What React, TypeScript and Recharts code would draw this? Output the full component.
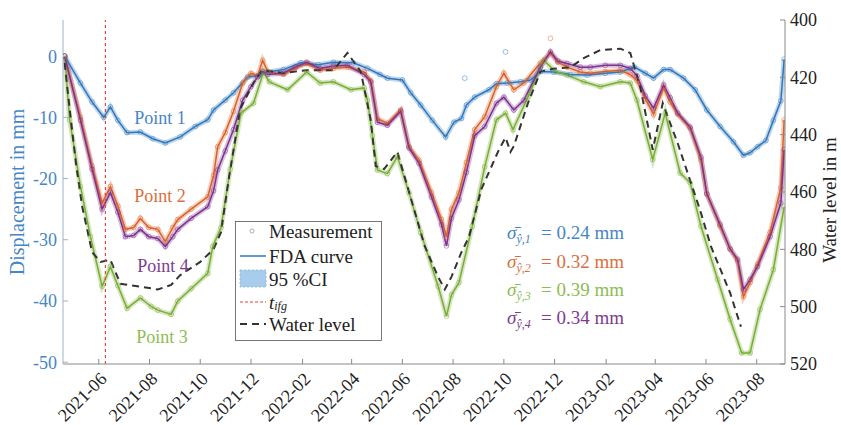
import React from 'react';
import { ComposedChart, Line, XAxis, YAxis, ReferenceLine } from 'recharts';

type Pt = [string, number];

const point1: Pt[] = [
  ['2021-04-21', 0], ['2021-05-10', -4.4], ['2021-05-24', -7.5], ['2021-06-07', -10.0], ['2021-06-15', -8.3],
  ['2021-06-24', -10.5], ['2021-07-05', -12.5], ['2021-07-21', -12.4], ['2021-08-05', -13.5], ['2021-08-20', -14.2],
  ['2021-09-07', -13.2], ['2021-09-25', -11.5], ['2021-10-10', -10.4], ['2021-10-17', -8.8], ['2021-10-31', -7.2],
  ['2021-11-10', -6.0], ['2021-11-27', -3.4], ['2021-12-10', -3.2], ['2021-12-21', -2.6], ['2022-01-09', -2.2],
  ['2022-01-30', -1.1], ['2022-02-20', -1.4], ['2022-03-10', -1.0], ['2022-04-03', -1.1], ['2022-04-20', -2.0],
  ['2022-05-05', -3.0], ['2022-05-14', -3.6], ['2022-06-01', -3.9], ['2022-06-11', -6.0], ['2022-06-23', -8.0],
  ['2022-07-07', -10.5], ['2022-07-23', -13.2], ['2022-08-02', -10.8], ['2022-08-11', -10.2], ['2022-08-17', -8.0],
  ['2022-08-27', -6.7], ['2022-09-13', -5.5], ['2022-09-22', -4.5], ['2022-10-05', -4.4], ['2022-10-21', -4.2],
  ['2022-11-02', -3.9], ['2022-11-14', -2.5], ['2022-11-30', -2.6], ['2022-12-20', -3.0], ['2023-01-09', -3.1],
  ['2023-01-31', -2.8], ['2023-02-18', -2.6], ['2023-03-07', -1.8], ['2023-03-20', -2.8], ['2023-03-30', -3.6],
  ['2023-04-11', -2.2], ['2023-04-19', -2.2], ['2023-05-05', -3.6], ['2023-05-19', -5.5], ['2023-06-02', -8.8],
  ['2023-06-18', -11.5], ['2023-07-04', -14.0], ['2023-07-16', -16.2], ['2023-07-24', -15.8], ['2023-08-02', -14.8],
  ['2023-08-12', -13.8], ['2023-08-21', -10.5], ['2023-08-30', -7.3], ['2023-09-03', -0.5],
];

const point2: Pt[] = [
  ['2021-04-21', 0], ['2021-05-10', -10.0], ['2021-05-24', -18.0], ['2021-06-05', -24.0], ['2021-06-15', -21.3],
  ['2021-06-24', -24.5], ['2021-07-03', -28.3], ['2021-07-13', -28.0], ['2021-07-21', -26.5], ['2021-07-31', -28.0],
  ['2021-08-11', -28.3], ['2021-08-20', -30.3], ['2021-08-29', -28.0], ['2021-09-04', -26.7], ['2021-09-20', -25.0],
  ['2021-10-10', -23.0], ['2021-10-17', -19.5], ['2021-10-22', -14.8], ['2021-10-31', -12.5], ['2021-11-10', -9.0],
  ['2021-11-21', -4.4], ['2021-12-01', -2.8], ['2021-12-09', -3.2], ['2021-12-15', -0.7], ['2021-12-21', -2.5],
  ['2022-01-09', -3.0], ['2022-01-23', -2.0], ['2022-02-06', -1.2], ['2022-02-22', -2.3], ['2022-03-10', -2.0],
  ['2022-03-27', -1.8], ['2022-04-16', -2.6], ['2022-04-24', -4.0], ['2022-05-02', -10.2], ['2022-05-14', -11.0],
  ['2022-05-30', -8.8], ['2022-06-09', -14.8], ['2022-06-21', -17.0], ['2022-07-06', -22.3], ['2022-07-18', -26.7],
  ['2022-07-24', -29.5], ['2022-07-30', -25.0], ['2022-08-08', -22.3], ['2022-08-17', -17.4], ['2022-08-27', -12.0],
  ['2022-09-08', -9.9], ['2022-09-22', -5.0], ['2022-10-01', -2.8], ['2022-10-13', -5.5], ['2022-10-25', -4.4],
  ['2022-11-14', -1.1], ['2022-11-26', 0.5], ['2022-12-05', -1.0], ['2022-12-16', -1.8], ['2023-01-01', -2.6],
  ['2023-01-13', -2.8], ['2023-01-31', -2.5], ['2023-02-18', -2.3], ['2023-03-02', -3.0], ['2023-03-10', -4.0],
  ['2023-03-20', -7.0], ['2023-03-30', -9.5], ['2023-04-11', -5.2], ['2023-04-19', -7.5], ['2023-04-28', -9.5],
  ['2023-05-13', -11.8], ['2023-05-26', -17.0], ['2023-06-02', -22.5], ['2023-06-18', -27.8], ['2023-06-30', -31.5],
  ['2023-07-09', -33.5], ['2023-07-16', -39.3], ['2023-07-24', -37.0], ['2023-08-02', -34.0], ['2023-08-17', -28.8],
  ['2023-08-30', -21.5], ['2023-09-03', -10.4],
];

const point3: Pt[] = [
  ['2021-04-21', 0], ['2021-04-27', -10.4], ['2021-05-10', -21.3], ['2021-05-22', -29.5], ['2021-06-05', -37.6],
  ['2021-06-15', -34.4], ['2021-06-24', -37.5], ['2021-07-05', -41.2], ['2021-07-21', -39.5], ['2021-08-03', -40.9],
  ['2021-08-11', -41.5], ['2021-08-27', -42.2], ['2021-09-04', -40.0], ['2021-09-20', -38.0], ['2021-10-10', -35.5],
  ['2021-10-16', -31.1], ['2021-10-26', -28.0], ['2021-11-06', -18.5], ['2021-11-19', -9.3], ['2021-12-04', -7.7],
  ['2021-12-16', -2.6], ['2021-12-23', -4.2], ['2022-01-14', -5.5], ['2022-02-06', -2.6], ['2022-02-22', -4.4],
  ['2022-03-10', -4.2], ['2022-03-31', -5.5], ['2022-04-16', -5.2], ['2022-04-20', -7.2], ['2022-04-26', -13.0],
  ['2022-05-02', -18.6], ['2022-05-14', -19.2], ['2022-05-26', -16.4], ['2022-06-09', -22.3], ['2022-06-23', -28.8],
  ['2022-07-14', -37.6], ['2022-07-24', -42.5], ['2022-07-30', -39.0], ['2022-08-08', -37.0], ['2022-08-24', -27.8],
  ['2022-09-08', -18.1], ['2022-09-22', -10.4], ['2022-10-03', -9.3], ['2022-10-12', -12.0], ['2022-10-30', -6.7],
  ['2022-11-14', -1.8], ['2022-11-18', -0.7], ['2022-12-02', -2.5], ['2022-12-16', -3.1], ['2023-01-05', -4.2],
  ['2023-01-25', -5.0], ['2023-02-18', -4.2], ['2023-03-02', -4.4], ['2023-03-10', -7.2], ['2023-03-29', -16.9],
  ['2023-04-13', -9.3], ['2023-05-01', -19.1], ['2023-05-13', -20.7], ['2023-05-26', -27.8], ['2023-06-15', -36.5],
  ['2023-06-30', -43.0], ['2023-07-14', -48.5], ['2023-07-24', -48.5], ['2023-08-05', -41.4], ['2023-08-21', -34.9],
  ['2023-09-03', -24.6],
];

const point4: Pt[] = [
  ['2021-04-21', 0], ['2021-05-10', -10.5], ['2021-05-24', -18.5], ['2021-06-05', -25.0], ['2021-06-15', -22.3],
  ['2021-06-24', -25.5], ['2021-07-03', -29.5], ['2021-07-13', -29.3], ['2021-07-21', -28.3], ['2021-07-31', -29.5],
  ['2021-08-11', -29.8], ['2021-08-20', -31.1], ['2021-08-29', -29.5], ['2021-09-04', -28.3], ['2021-09-20', -26.5],
  ['2021-10-10', -24.6], ['2021-10-17', -22.0], ['2021-10-22', -18.6], ['2021-10-31', -15.5], ['2021-11-10', -12.0],
  ['2021-11-21', -7.2], ['2021-12-01', -5.0], ['2021-12-09', -3.4], ['2021-12-15', -2.5], ['2021-12-21', -3.0],
  ['2022-01-09', -2.8], ['2022-01-23', -1.8], ['2022-02-06', -1.0], ['2022-02-22', -2.0], ['2022-03-10', -1.6],
  ['2022-03-27', -1.5], ['2022-04-16', -3.0], ['2022-04-24', -4.2], ['2022-05-02', -10.8], ['2022-05-14', -11.3],
  ['2022-05-30', -9.0], ['2022-06-09', -15.0], ['2022-06-21', -17.5], ['2022-07-06', -23.0], ['2022-07-18', -27.5],
  ['2022-07-24', -31.0], ['2022-07-30', -26.5], ['2022-08-08', -23.5], ['2022-08-17', -19.0], ['2022-08-27', -13.0],
  ['2022-09-08', -11.5], ['2022-09-22', -7.7], ['2022-10-01', -6.7], ['2022-10-13', -8.8], ['2022-10-25', -7.2],
  ['2022-11-14', -1.8], ['2022-11-26', 0.7], ['2022-12-05', -0.8], ['2022-12-16', -1.2], ['2023-01-01', -1.8],
  ['2023-01-13', -1.8], ['2023-01-31', -1.5], ['2023-02-18', -1.5], ['2023-03-02', -2.0], ['2023-03-10', -3.2],
  ['2023-03-20', -6.5], ['2023-03-30', -8.5], ['2023-04-11', -4.7], ['2023-04-19', -6.8], ['2023-04-28', -9.3],
  ['2023-05-13', -11.6], ['2023-05-26', -16.5], ['2023-06-02', -22.5], ['2023-06-18', -27.5], ['2023-06-30', -31.5],
  ['2023-07-09', -33.2], ['2023-07-16', -38.1], ['2023-07-24', -36.5], ['2023-08-02', -34.4], ['2023-08-17', -29.5],
  ['2023-08-30', -24.0], ['2023-09-03', -15.3],
];

const outliers1: Pt[] = [['2022-08-15', -3.6], ['2022-10-03', 0.7]];
const outliers2: Pt[] = [['2022-11-26', 2.9]];

const waterLevel: Pt[] = [
  ['2021-04-21', 415], ['2021-04-27', 431], ['2021-05-05', 451], ['2021-05-12', 465], ['2021-05-24', 481],
  ['2021-06-03', 484.4], ['2021-06-15', 483.7], ['2021-06-27', 492], ['2021-07-21', 493], ['2021-08-11', 494],
  ['2021-08-27', 492.4], ['2021-09-07', 489], ['2021-10-01', 484.4], ['2021-10-17', 480], ['2021-10-26', 474],
  ['2021-11-04', 456], ['2021-11-18', 431], ['2021-12-04', 422], ['2021-12-14', 417.5], ['2022-01-09', 418.5],
  ['2022-02-06', 417.5], ['2022-03-10', 417.5], ['2022-03-27', 411.5], ['2022-04-12', 418], ['2022-04-24', 435],
  ['2022-04-30', 451], ['2022-05-10', 452], ['2022-05-26', 446], ['2022-06-09', 460], ['2022-06-28', 479],
  ['2022-07-14', 489.6], ['2022-07-22', 494], ['2022-07-30', 489.6], ['2022-08-11', 481], ['2022-08-20', 475.7],
  ['2022-09-04', 459], ['2022-09-25', 445.3], ['2022-10-03', 441], ['2022-10-09', 446], ['2022-10-13', 444],
  ['2022-10-30', 429], ['2022-11-14', 418], ['2022-11-30', 417], ['2022-12-20', 416.5], ['2023-01-05', 413.3],
  ['2023-01-25', 410.5], ['2023-02-18', 410], ['2023-03-02', 411.5], ['2023-03-14', 423.4], ['2023-03-29', 445.3],
  ['2023-04-10', 429], ['2023-04-28', 443], ['2023-05-10', 453.4], ['2023-05-26', 467.3], ['2023-06-07', 479],
  ['2023-06-30', 495.2], ['2023-07-13', 507],
];

const ifgDate = '2021-06-09';
const xDomain = ['2021-04-19', '2023-09-04'];
const xTickLabels = [
  '2021-06', '2021-08', '2021-10', '2021-12', '2022-02', '2022-04', '2022-06',
  '2022-08', '2022-10', '2022-12', '2023-02', '2023-04', '2023-06', '2023-08',
];
const leftTicks = [-50, -40, -30, -20, -10, 0];
const rightTicks = [400, 420, 440, 460, 480, 500, 520];
const pointLabels = ['Point 1', 'Point 2', 'Point 3', 'Point 4'];
const sigmaValues = ['0.24', '0.32', '0.39', '0.34'];

const C_BLUE = '#2f78bd';
const C_ORANGE = '#db6128';
const C_GREEN = '#79ae35';
const C_PURPLE = '#7e318f';
const T_BLUE = '#4586c6';
const T_ORANGE = '#d9703c';
const T_GREEN = '#8cbd52';
const T_PURPLE = '#7d3c90';
const FONT = 'Liberation Serif, DejaVu Serif, serif';

const toMs = (s: string) => Date.parse((s.length === 7 ? s + '-01' : s) + 'T00:00:00Z');
const rows = (arr: Pt[]) => arr.map(([d, v]) => ({ t: toMs(d), v }));

const d1 = rows(point1);
const d2 = rows(point2);
const d3 = rows(point3);
const d4 = rows(point4);
const dw = rows(waterLevel);
const o1 = rows(outliers1);
const o2 = rows(outliers2);
const xTicks = xTickLabels.map(toMs);
const domainX = xDomain.map(toMs);

const XTick = (props: any) => {
  const { x, y, payload } = props;
  const d = new Date(payload.value);
  const label = `${d.getUTCFullYear()}-${String(d.getUTCMonth() + 1).padStart(2, '0')}`;
  const ax = x + 9;
  const ay = y + 16;
  return (
    <text x={ax} y={ay} textAnchor="end" transform={`rotate(-45 ${ax} ${ay})`}
      fontSize={18} fontFamily={FONT} fill="#222">{label}</text>
  );
};

const dot = (color: string) => (p: any) => {
  if (p.cx == null || p.cy == null) return <g key={p.key} />;
  return <circle key={p.key} cx={p.cx} cy={p.cy} r={2.4} fill="none" stroke={color} strokeOpacity={0.6} strokeWidth={0.8} />;
};

const series = [
  { data: d1, color: C_BLUE },
  { data: d2, color: C_ORANGE },
  { data: d3, color: C_GREEN },
  { data: d4, color: C_PURPLE },
];

const sigmaColors = [T_BLUE, T_ORANGE, T_GREEN, T_PURPLE];
const sigmaY = [239, 268, 296, 324];

export default function App() {
  return (
    <div style={{ position: 'absolute', left: 0, top: 0, width: 841, height: 425, background: '#fff' }}>
      <ComposedChart width={841} height={425} margin={{ top: 20, right: 0, bottom: 0, left: 0 }}
        style={{ fontFamily: FONT }}>
        <XAxis xAxisId="b" dataKey="t" type="number" domain={domainX} ticks={xTicks} interval={0}
          allowDataOverflow height={61} tickSize={-5} tickMargin={5} tick={<XTick />}
          stroke="#8a8a8a" tickLine={{ stroke: '#8a8a8a' }} />
        <XAxis xAxisId="top" orientation="top" dataKey="t" type="number" domain={domainX} ticks={xTicks}
          interval={0} allowDataOverflow height={0} tickSize={-5} tick={() => <g />}
          stroke="#8a8a8a" />
        <YAxis yAxisId="left" type="number" domain={[-50.3, 5.9]} ticks={leftTicks} allowDataOverflow
          width={63} tickSize={-5} tickMargin={11} interval={0}
          tick={{ fill: T_BLUE, fontSize: 18, fontFamily: FONT }}
          stroke="#9fb3c8" tickLine={{ stroke: '#9fb3c8' }} />
        <YAxis yAxisId="wl" orientation="right" type="number" reversed domain={[400, 520]} ticks={rightTicks}
          allowDataOverflow width={56} tickSize={-5} tickMargin={10} interval={0}
          tick={{ fill: '#222', fontSize: 18, fontFamily: FONT }}
          stroke="#8a8a8a" tickLine={{ stroke: '#8a8a8a' }} />

        {series.map((s, i) => (
          <Line key={`m${i}`} xAxisId="b" yAxisId="left" data={s.data} dataKey="v" stroke="none"
            dot={dot(s.color)} activeDot={false} isAnimationActive={false} />
        ))}
        <Line xAxisId="b" yAxisId="left" data={o1} dataKey="v" stroke="none" dot={dot(C_BLUE)}
          activeDot={false} isAnimationActive={false} />
        <Line xAxisId="b" yAxisId="left" data={o2} dataKey="v" stroke="none" dot={dot(C_ORANGE)}
          activeDot={false} isAnimationActive={false} />
        {series.map((s, i) => (
          <Line key={`ci${i}`} xAxisId="b" yAxisId="left" data={s.data} dataKey="v" stroke={s.color}
            strokeOpacity={0.3} strokeWidth={5} dot={false} activeDot={false} type="linear"
            isAnimationActive={false} />
        ))}
        {series.map((s, i) => (
          <Line key={`l${i}`} xAxisId="b" yAxisId="left" data={s.data} dataKey="v" stroke={s.color}
            strokeWidth={1.5} dot={false} activeDot={false} type="linear" isAnimationActive={false} />
        ))}
        <Line xAxisId="b" yAxisId="wl" data={dw} dataKey="v" stroke="#333" strokeWidth={2}
          strokeDasharray="7 5" dot={false} activeDot={false} isAnimationActive={false} />
        <ReferenceLine xAxisId="b" yAxisId="left" x={toMs(ifgDate)} stroke="#e8453c" strokeWidth={1.2}
          strokeDasharray="3 3" />
      </ComposedChart>

      <svg width={841} height={425} style={{ position: 'absolute', left: 0, top: 0, pointerEvents: 'none' }}
        fontFamily={FONT}>
        <text x={17} y={192} transform="rotate(-90 17 192)" textAnchor="middle" dominantBaseline="central"
          fontSize={20} fill={T_BLUE}>Displacement in mm</text>
        <text x={829} y={200} transform="rotate(-90 829 200)" textAnchor="middle" dominantBaseline="central"
          fontSize={19} fill="#222">Water level in m</text>

        <text x={160} y={118} textAnchor="middle" dominantBaseline="central" fontSize={18} fill={T_BLUE}>{pointLabels[0]}</text>
        <text x={160} y={196} textAnchor="middle" dominantBaseline="central" fontSize={18} fill={T_ORANGE}>{pointLabels[1]}</text>
        <text x={162} y={337} textAnchor="middle" dominantBaseline="central" fontSize={18} fill={T_GREEN}>{pointLabels[2]}</text>
        <text x={163} y={266} textAnchor="middle" dominantBaseline="central" fontSize={18} fill={T_PURPLE}>{pointLabels[3]}</text>

        {sigmaValues.map((v, i) => (
          <g key={i} fill={sigmaColors[i]}>
            <text x={507} y={sigmaY[i]} fontSize={19}>
              <tspan fontStyle="italic">{'σ\u0304'}</tspan>
              <tspan fontSize={12} fontStyle="italic" dy={4}>{`ŷ,${i + 1}`}</tspan>
            </text>
            <text x={541} y={sigmaY[i]} fontSize={19}>{`= ${v} mm`}</text>
          </g>
        ))}

        <rect x={235.5} y={221.5} width={146} height={119} fill="#fff" stroke="#555" strokeWidth={0.8} />
        <circle cx={252} cy={231} r={2} fill="none" stroke="#999" strokeWidth={0.8} />
        <text x={269} y={231} dominantBaseline="central" fontSize={19} fill="#222">Measurement</text>
        <line x1={240} x2={266} y1={256} y2={256} stroke={C_BLUE} strokeWidth={1.5} />
        <text x={269} y={256} dominantBaseline="central" fontSize={19} fill="#222">FDA curve</text>
        <rect x={240} y={270} width={26} height={17} fill="#a8cdec" stroke="#86b6de" strokeWidth={0.8} strokeDasharray="2 2" />
        <text x={269} y={279} dominantBaseline="central" fontSize={19} fill="#222">95 %CI</text>
        <line x1={240} x2={266} y1={302} y2={302} stroke="#e8453c" strokeWidth={1.2} strokeDasharray="3 2" />
        <text x={269} y={302} dominantBaseline="central" fontSize={19} fill="#222">
          <tspan fontStyle="italic">t</tspan>
          <tspan fontStyle="italic" fontSize={12} dy={4}>ifg</tspan>
        </text>
        <line x1={240} x2={266} y1={324} y2={324} stroke="#333" strokeWidth={2} strokeDasharray="7 5" />
        <text x={269} y={324} dominantBaseline="central" fontSize={19} fill="#222">Water level</text>
      </svg>
    </div>
  );
}
